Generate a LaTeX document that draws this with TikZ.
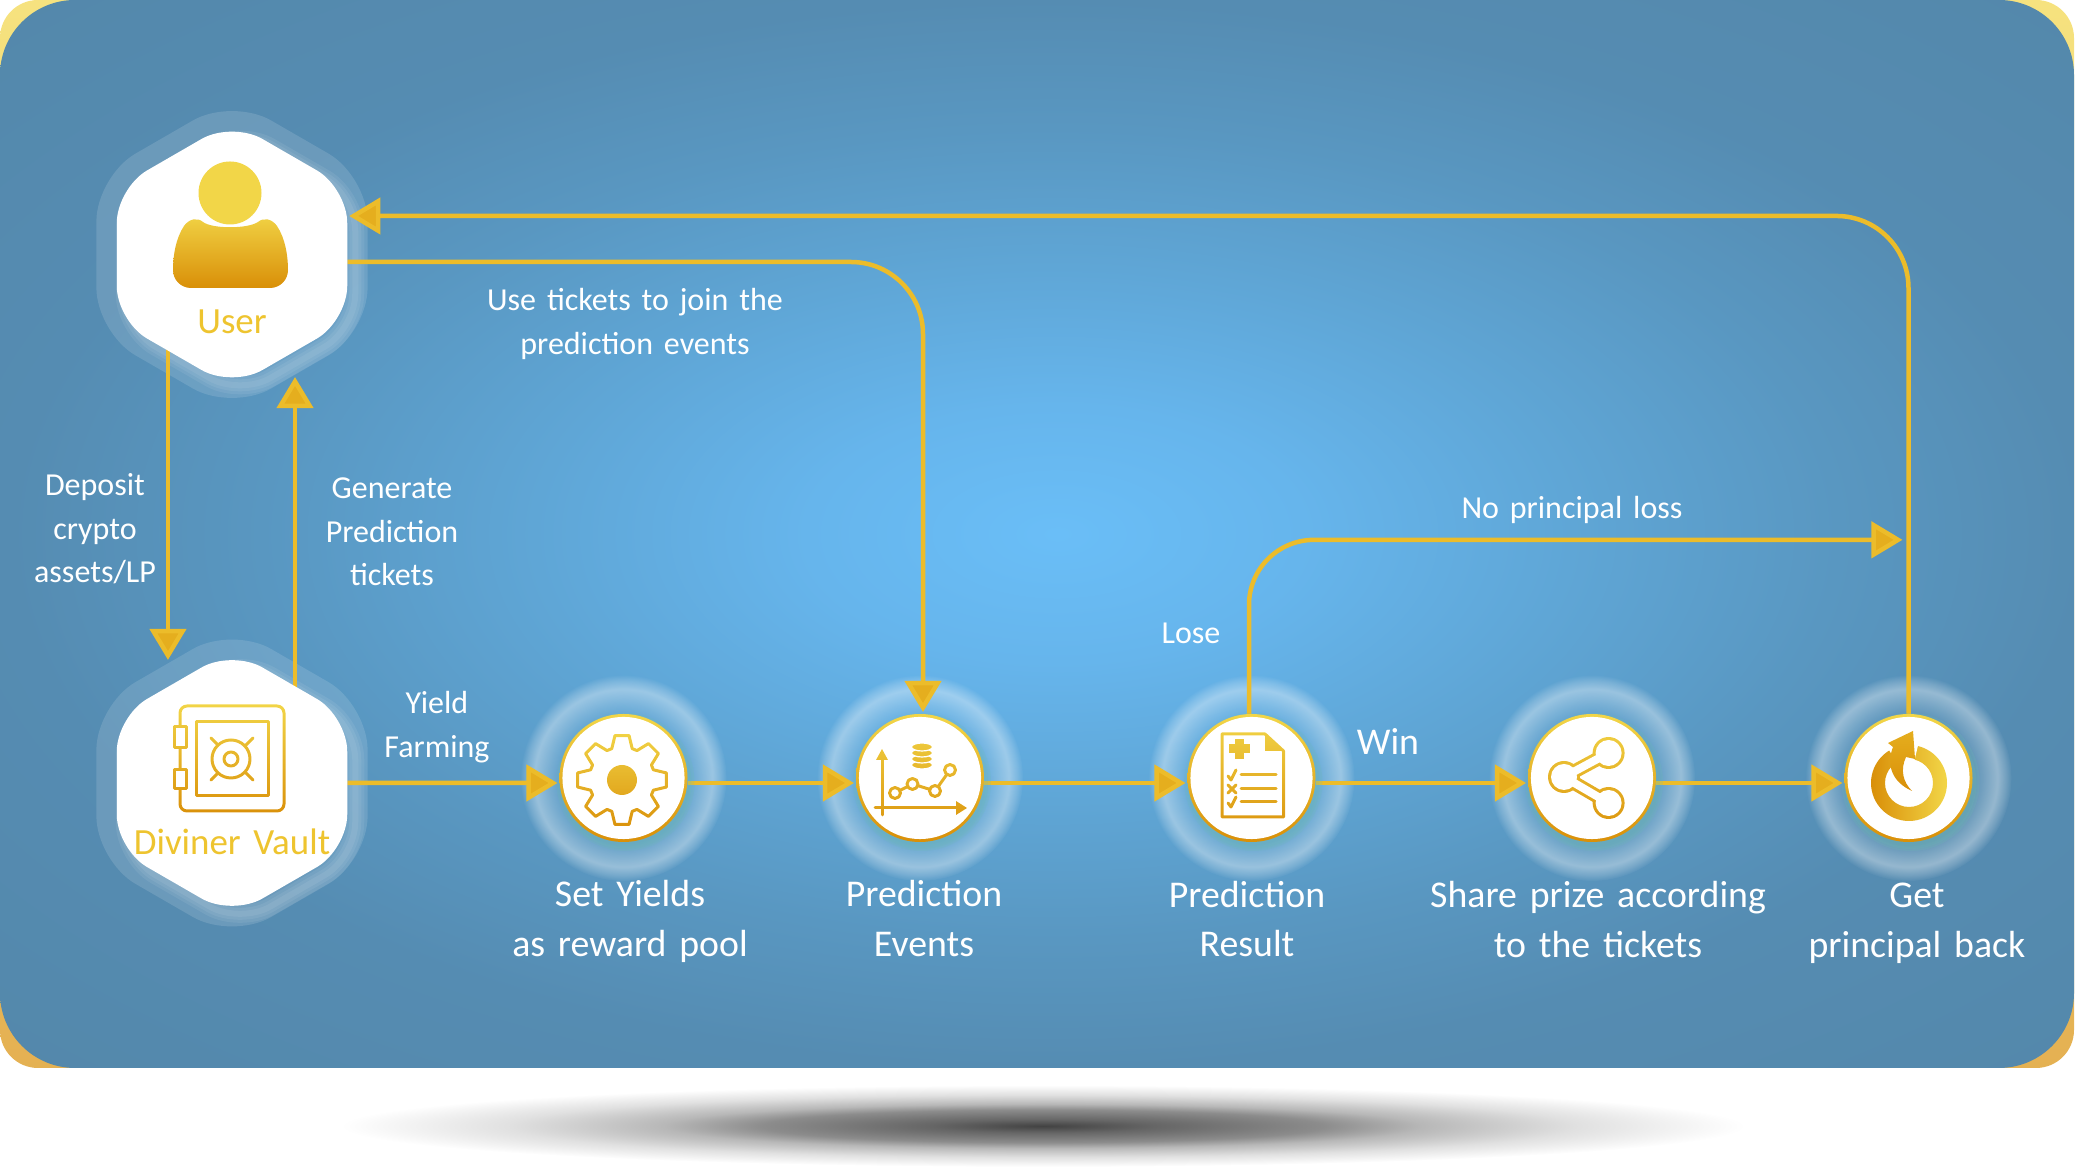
\documentclass[tikz,border=0pt]{standalone}
\usepackage{fontspec}
\setmainfont[WordSpace=1.5]{Carlito}
\usetikzlibrary{arrows.meta,backgrounds,fadings,shapes.geometric}

\definecolor{goldhi}{HTML}{F2D648}
\definecolor{goldlo}{HTML}{D98F08}
\definecolor{goldline}{HTML}{ECBC2A}
\definecolor{goldtip}{HTML}{E5AE1E}
\definecolor{goldtext}{HTML}{EEC42F}
\definecolor{tealglow}{HTML}{6DBDB0}
\definecolor{panela}{HTML}{6ABEF7}
\definecolor{panelb}{HTML}{66B5EC}
\definecolor{panelc}{HTML}{5FA6D6}
\definecolor{paneld}{HTML}{5997C1}
\definecolor{panele}{HTML}{558CB2}
\definecolor{panelf}{HTML}{5488AB}

\pgfdeclareradialshading{panelglow}{\pgfpoint{0.5bp}{0bp}}{color(0bp)=(panela); color(6bp)=(panelb); color(12.5bp)=(panelc); color(19bp)=(paneld); color(25bp)=(panele); color(35bp)=(panelf); color(50bp)=(panelf)}
\pgfdeclareradialshading{floorshadow}{\pgfpointorigin}{color(0bp)=(black!74); color(4bp)=(black!60); color(10bp)=(black!45); color(13.5bp)=(black!28); color(19bp)=(black!12); color(25bp)=(white); color(50bp)=(white)}
\pgfdeclareradialshading{stageshade}{\pgfpointorigin}{color(0bp)=(pgftransparent!100); color(16bp)=(pgftransparent!92); color(18bp)=(pgftransparent!82); color(21.5bp)=(pgftransparent!62); color(23.5bp)=(pgftransparent!82); color(25bp)=(pgftransparent!100); color(50bp)=(pgftransparent!100)}
\pgfdeclarefading{stagefade}{\pgfuseshading{stageshade}}

\tikzset{
	hexnode/.style={regular polygon, regular polygon sides=6, shape border rotate=30, fill=white, minimum size=2.66cm, inner sep=0pt, outer sep=0pt, rounded corners=0.35cm},
	hexhalo/.style={regular polygon, regular polygon sides=6, shape border rotate=30, fill=white, fill opacity=0.13, minimum size=3.13cm, inner sep=0pt, outer sep=0pt, rounded corners=0.45cm},
	hexglow/.style={regular polygon, regular polygon sides=6, shape border rotate=30, draw=white, draw opacity=0.07, line width=#1, minimum size=2.66cm, inner sep=0pt, rounded corners=0.35cm},
	stagenode/.style={circle, fill=white, minimum size=1.22cm, inner sep=0pt, outer sep=0.03cm},
	goldfade/.style={top color=goldhi, bottom color=goldlo},
	ink/.style={line width=0.03cm, line join=round, line cap=round},
	flowline/.style={goldline, line width=0.045cm},
	flowarrow/.style={flowline, shorten >=0.02cm, -{Triangle[length=0.31cm, width=0.36cm, fill=goldtip]}},
	hexlabel/.style={goldtext, font=\fontsize{10.5}{14}\selectfont},
	stagelabel/.style={white, align=center, font=\fontsize{10.75}{14.1}\selectfont},
	flowlabel/.style={white, align=center, font=\fontsize{9.1}{12.4}\selectfont}
}

% turns the black strokes of an icon into the gold fade, white stays white
\def\goldwash(#1)(#2){\begin{scope}[blend mode=screen]\path[goldfade] (#1) circle (#2);\end{scope}}

\begin{document}
\begin{tikzpicture}[x=0.01cm, y=-0.01cm]
			\useasboundingbox (0, 0) rectangle (2096, 1171);
			
			%%%%% NODES %%%%%
			
			\node[hexnode] (user) at (232, 254.5) {};
			\node[hexnode] (vault) at (232, 783) {};
			\node[stagenode] (setyields) at (623.5, 778) {};
			\node[stagenode] (predevents) at (920, 778) {};
			\node[stagenode] (predresult) at (1251.5, 778) {};
			\node[stagenode] (shareprize) at (1592, 778) {};
			\node[stagenode] (getback) at (1908.5, 778) {};
			
			%%%%% BACKGROUND %%%%%
			
			\begin{scope}[on background layer]
				\path[top color=goldhi!70!white, bottom color=goldlo!70!white, rounded corners=0.38cm] (0, 0) rectangle (2074, 1068);
				\path[shading=panelglow, rounded corners=0.75cm] (0, 0) rectangle (2074, 1068);
				\path[shading=floorshadow] (1043, 1126) ellipse (702 and 41);
				
				\node[hexhalo] (userhalo) at (user) {};
				\node[hexhalo] (vaulthalo) at (vault) {};
				\foreach \w in {6, 12, 18} {
					\node[hexglow=\w*0.01cm] at ([shift={(8, 8)}]user) {};
					\node[hexglow=\w*0.01cm] at ([shift={(8, 8)}]vault) {};
				}
				\foreach \n in {setyields, predevents, predresult, shareprize, getback} {
					\fill[white, path fading=stagefade] (\n) circle (103);
				}
				
				%%%%% CONNECTORS %%%%%
				
				\draw[flowarrow] ([xshift=-0.64cm]user.center) -- ([xshift=-0.64cm, yshift=-0.12cm]vault.north);
				\draw[flowarrow] ([xshift=0.63cm]vault.center) -- ([xshift=0.63cm, yshift=0.125cm]user.south);
				\draw[flowarrow] (vault.east) -- ([yshift=-0.05cm]setyields.west);
				\draw[flowarrow] ([yshift=-0.05cm]setyields.east) -- ([yshift=-0.05cm]predevents.west);
				\draw[flowarrow] ([yshift=-0.05cm]predevents.east) -- ([yshift=-0.05cm]predresult.west);
				\draw[flowarrow] ([yshift=-0.05cm]predresult.east) -- ([yshift=-0.05cm]shareprize.west);
				\draw[flowarrow] ([yshift=-0.05cm]shareprize.east) -- ([yshift=-0.05cm]getback.west);
				\draw[flowarrow, rounded corners=0.72cm] ([yshift=-0.075cm]user.east) -| ([xshift=0.03cm]predevents.north);
				\draw[flowarrow, rounded corners=0.72cm] (getback.north) |- ([yshift=0.385cm]user.east);
				\draw[flowarrow, rounded corners=0.65cm, shorten >=0.06cm] ([xshift=-0.025cm]predresult.north) |- ([yshift=1.74cm]getback.north);
				
				\foreach \n in {setyields, predevents, predresult, shareprize, getback} {
					\fill[tealglow, opacity=0.2] ([shift={(2, 5)}]\n.center) circle (66);
					\fill[tealglow, opacity=0.2] ([shift={(2, 4)}]\n.center) circle (69);
					\path[goldfade] (\n.center) circle (64);
				}
			\end{scope}
			
			%%%%% USER %%%%%
			
			\fill[goldhi] (230, 193) circle (31.5);
			\path[top color=goldhi!92!goldlo, bottom color=goldlo] (203, 222) .. controls (212, 229) and (248, 229)  .. (258, 222) .. controls (264, 217) and (272, 219) .. (277, 226) .. controls (285, 238) and (288, 255) .. (288, 270) .. controls (288, 280) and (280, 288) .. (270, 288) -- (191, 288) .. controls (181, 288) and (173, 280) .. (173, 270) .. controls (173, 255) and (176, 238) .. (184, 226) .. controls (189, 219) and (197, 217) .. (203, 222) -- cycle;
			\node[hexlabel] (userlabel) at (232, 322) {User};
			
			%%%%% VAULT %%%%%
			
			\draw[ink, rounded corners=0.07cm] (180, 706) rectangle (284, 811);
			\draw[ink] (196, 722) rectangle (268, 796);
			\draw[ink] (211, 738) -- (253, 780);
			\draw[ink] (253, 738) -- (211, 780);
			\draw[ink, fill=white] (231, 759) circle (19);
			\draw[ink] (231, 759) circle (7);
			\draw[ink, fill=white] (174, 727) rectangle (186, 748);
			\draw[ink, fill=white] (174, 770) rectangle (186, 789);
			\begin{scope}[blend mode=screen]
				\path[goldfade] (170, 702) rectangle (290, 816);
			\end{scope}
			\node[hexlabel] (vaultlabel) at (232, 842) {Diviner Vault};
			
			%%%%% GEAR %%%%%
			
			\draw[ink, shift={(622, 780)}] (-108:33) \foreach \a in {-90, -45, ..., 225} {-- (\a-18:33) -- (\a-9:45) -- (\a+9:45) -- (\a+18:33)} -- cycle;
			\fill (622, 780) circle (15);
			\goldwash(622, 780)(52)
			
			%%%%% CHART %%%%%
			
			\draw[ink] (882, 815) -- (882, 756);
			\fill (882, 749) -- (876, 760) -- (888, 760) -- cycle;
			\draw[ink] (875, 808) -- (958, 808);
			\fill (967, 808) -- (956, 801) -- (956, 815) -- cycle;
			\draw[ink] (895, 793) -- (912.5, 784) -- (935, 791) -- (950, 770);
			\foreach \p in {(895, 793), (912.5, 784), (935, 791), (950, 770)} {
				\draw[ink, fill=white] \p circle (5.5);
			}
			\foreach \c in {765, 759, 753, 747} {
				\draw[white, fill=black, line width=0.012cm] (922, \c) ellipse (10.5 and 4);
			}
			\goldwash(920, 778)(60)
			
			%%%%% DOCUMENT %%%%%
			
			\draw[ink] (1222, 734) -- (1265, 734) -- (1283.5, 751) -- (1283.5, 817) -- (1222, 817) -- cycle;
			\fill (1265, 734) -- (1283.5, 751) -- (1265, 751) -- cycle;
			\fill (1228.5, 744.5) rectangle (1249.5, 753.5);
			\fill (1234.5, 739) rectangle (1243.5, 759);
			\draw[ink] (1241, 775) -- (1276, 775);
			\draw[ink] (1241, 789) -- (1276, 789);
			\draw[ink] (1241, 802) -- (1276, 802);
			\draw[ink] (1228, 776) -- (1231, 780) -- (1236, 770);
			\draw[ink] (1228, 785) -- (1236, 793);
			\draw[ink] (1236, 785) -- (1228, 793);
			\draw[ink] (1228, 803) -- (1231, 807) -- (1236, 797);
			\goldwash(1251.5, 778)(60)
			
			%%%%% SHARE %%%%%
			
			\fill (1608.6, 753) circle (16);
			\fill (1608.6, 803) circle (16);
			\fill (1564, 777) circle (16);
			\draw[line width=0.14cm] (1608.6, 753) -- (1564, 777) -- (1608.6, 803);
			\fill[white] (1608.6, 753) circle (13);
			\fill[white] (1608.6, 803) circle (13);
			\fill[white] (1564, 777) circle (13);
			\draw[white, line width=0.08cm] (1608.6, 753) -- (1564, 777) -- (1608.6, 803);
			\goldwash(1592, 778)(58)
			
			%%%%% POWER %%%%%
			
			\path[left color=goldlo, middle color=goldhi, right color=goldhi, even odd rule] (1909, 783) circle (38) (1909, 783) circle (24);
			\fill[white] (1909, 783) -- (1921, 733) -- (1880, 735) -- cycle;
			\path[top color=goldtip, bottom color=goldlo] (1913, 731) -- (1888, 743) -- (1893, 747) .. controls (1886, 765) and (1892, 782) .. (1912, 791) .. controls (1903, 782) and (1900, 770) .. (1906, 757) -- (1915, 759) -- cycle;
			
			%%%%% LABELS %%%%%
			
			\node[stagelabel] (setyieldslabel) at (630, 921.5) {Set Yields\\as reward pool};
			\node[stagelabel] (predeventslabel) at (924, 918.5) {Prediction\\Events};
			\node[stagelabel] (predresultlabel) at (1247, 919) {Prediction\\Result};
			\node[stagelabel] (shareprizelabel) at (1598, 919.5) {Share prize according\\to the tickets};
			\node[stagelabel] (getbacklabel) at (1917, 923) {Get\\principal back};
			
			\node[flowlabel] (depositlabel) at (95, 529) {Deposit\\crypto\\assets/LP};
			\node[flowlabel] (generatelabel) at (392, 532) {Generate\\Prediction\\tickets};
			\node[flowlabel] (jointlabel) at (635, 324) {Use tickets to join the\\prediction events};
			\node[flowlabel] (yieldlabel) at (437, 727) {Yield\\Farming};
			\node[flowlabel] (loselabel) at (1191, 633) {Lose};
			\node[stagelabel] (winlabel) at (1388, 742) {Win};
			\node[flowlabel] (nolosslabel) at (1572, 510) {No principal loss};
		\end{tikzpicture}
\end{document}
